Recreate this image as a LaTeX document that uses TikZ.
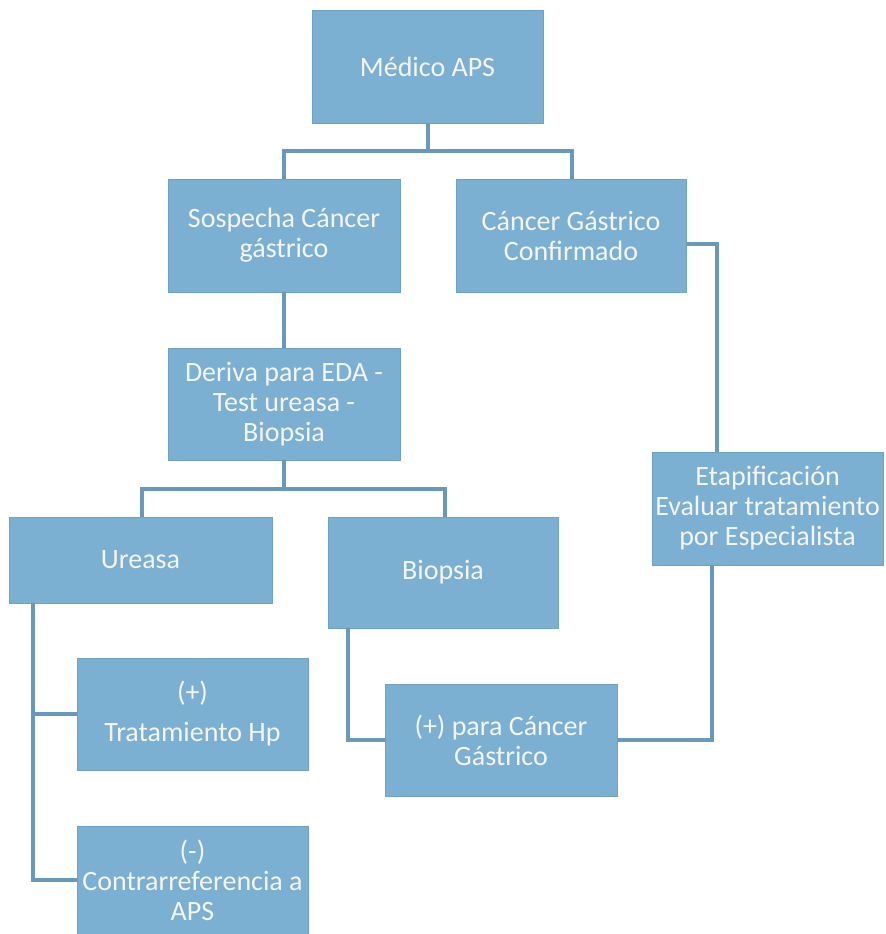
\documentclass[tikz,border=0pt]{standalone}
\usepackage{fontspec}
\setmainfont{Carlito}
\definecolor{boxfill}{RGB}{124,176,210}
\definecolor{boxedge}{RGB}{112,160,195}
\definecolor{linkcol}{RGB}{104,152,188}
\definecolor{txtcol}{RGB}{244,244,240}
\begin{document}
\begin{tikzpicture}[x=0.75pt,y=-0.75pt,
  flowbox/.style={draw=boxedge, line width=0.6pt, fill=boxfill, text=txtcol, align=center,
    inner sep=0pt, font=\fontsize{21}{22.5}\selectfont},
  conn/.style={draw=linkcol, line width=2.6pt}]
\useasboundingbox (0,0) rectangle (885,934);
\fill[white] (0,0) rectangle (885,934);
% boxes
\node[flowbox, minimum width=231*0.75pt, minimum height=113*0.75pt] (medico) at (427.5,66.5) {Médico APS};
\node[flowbox, minimum width=232*0.75pt, minimum height=113*0.75pt] (sospecha) at (284,235.5) {Sospecha Cáncer\\gástrico};
\node[flowbox, minimum width=230*0.75pt, minimum height=113*0.75pt] (confirmado) at (571,235.5) {Cáncer Gástrico\\Confirmado};
\node[flowbox, minimum width=232*0.75pt, minimum height=112*0.75pt] (deriva) at (284,404) {Deriva para EDA -\\Test ureasa -\\Biopsia};
\node[flowbox, minimum width=263*0.75pt, minimum height=86*0.75pt] (ureasa) at (140.5,560) {Ureasa};
\node[flowbox, minimum width=230*0.75pt, minimum height=111*0.75pt] (biopsia) at (443,572.5) {Biopsia};
\node[flowbox, minimum width=231*0.75pt, minimum height=113*0.75pt] (etap) at (767.5,508.5) {Etapificación\\Evaluar tratamiento\\por Especialista};
\node[flowbox, minimum width=231*0.75pt, minimum height=112*0.75pt] (trat) at (192.5,714) {(+)\\[7.5pt]Tratamiento Hp};
\node[flowbox, minimum width=232*0.75pt, minimum height=112*0.75pt] (positivo) at (501,740) {(+) para Cáncer\\Gástrico};
\node[flowbox, minimum width=231*0.75pt, minimum height=108*0.75pt] (contra) at (192.5,880) {(-)\\Contrarreferencia a\\APS};
% junction coordinates
\coordinate (j1) at (428,151);
\coordinate (j1l) at (284,151);
\coordinate (j1r) at (572,151);
\coordinate (j2) at (284,489);
\coordinate (j2l) at (142,489);
\coordinate (j2r) at (445,489);
\coordinate (j3) at (717,244);
\coordinate (j4) at (33,603);
\coordinate (j5) at (348,628);
\coordinate (j6) at (712,740);
% connectors
\draw[conn] (medico.south -| j1) -- (j1);
\draw[conn] (j1l |- sospecha.north) -- (j1l) -- (j1r) -- (j1r |- confirmado.north);
\draw[conn] (sospecha.south) -- (deriva.north);
\draw[conn] (deriva.south -| j2) -- (j2);
\draw[conn] (j2l |- ureasa.north) -- (j2l) -- (j2r) -- (j2r |- biopsia.north);
\draw[conn] (confirmado.east |- j3) -- (j3) -- (j3 |- etap.north);
\draw[conn] (j4) -- (j4 |- contra.west) -- (contra.west);
\draw[conn] (j4 |- trat.west) -- (trat.west);
\draw[conn] (j5) -- (j5 |- positivo.west) -- (positivo.west);
\draw[conn] (positivo.east) -- (j6) -- (j6 |- etap.south);
\end{tikzpicture}
\end{document}
